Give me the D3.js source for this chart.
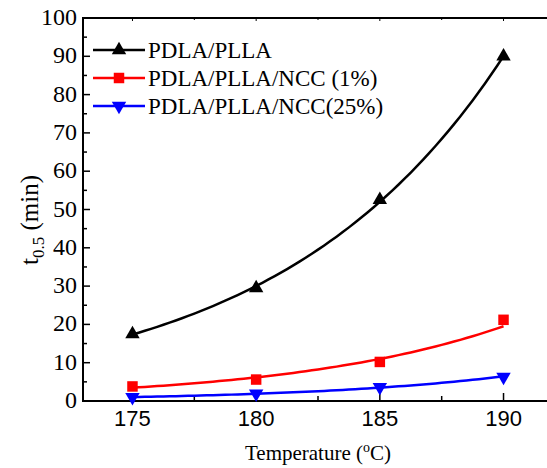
<!DOCTYPE html>
<html>
<head>
<meta charset="utf-8">
<script src="https://cdn.jsdelivr.net/npm/d3@7"></script>
<style>
  body { margin: 0; background: #fff; }
</style>
</head>
<body>
<div id="chart"></div>
<script>
const temps = [175, 180, 185, 190];
const pdlaPlla = [17.5, 29.5, 52.5, 90];
const ncc1 = [3.8, 5.6, 10.2, 21.2];
const ncc25 = [1.0, 1.9, 3.6, 6.3];
const xTicks = [175, 180, 185, 190];
const yTicks = [0, 10, 20, 30, 40, 50, 60, 70, 80, 90, 100];
const seriesNames = ["PDLA/PLLA", "PDLA/PLLA/NCC (1%)", "PDLA/PLLA/NCC(25%)"];
const colors = ["#000000", "#ff0000", "#0000ff"];
const shapes = ["triangle", "square", "triangleDown"];

const serif = "'Liberation Serif', 'Times New Roman', Times, serif";
const sans = "'Liberation Sans', Arial, Helvetica, sans-serif";

const width = 547;
const height = 468;
const margin = { top: 18, right: -6, bottom: 67, left: 83 };

const svg = d3.select("#chart")
  .append("svg")
  .attr("width", width)
  .attr("height", height)
  .attr("font-family", serif);

const x = d3.scaleLinear()
  .domain([173, 192])
  .range([margin.left, width - margin.right]);
const y = d3.scaleLinear()
  .domain([0, 100])
  .range([height - margin.bottom, margin.top]);

// frame
svg.append("rect")
  .attr("x", x(173))
  .attr("y", y(100))
  .attr("width", x(192) - x(173))
  .attr("height", y(0) - y(100))
  .attr("fill", "none")
  .attr("stroke", "#000")
  .attr("stroke-width", 2);

// bottom axis, ticks inward
const xMinor = [177.5, 182.5, 187.5];
svg.append("g").selectAll("line")
  .data(xTicks.concat(xMinor))
  .enter().append("line")
  .attr("x1", d => x(d)).attr("x2", d => x(d))
  .attr("y1", y(0))
  .attr("y2", d => y(0) - (xTicks.includes(d) ? 8 : 5))
  .attr("stroke", "#000").attr("stroke-width", 1.5);
svg.append("g").selectAll("line")
  .data(xTicks.concat(xMinor))
  .enter().append("line")
  .attr("x1", d => x(d)).attr("x2", d => x(d))
  .attr("y1", y(100))
  .attr("y2", d => y(100) + (xTicks.includes(d) ? 3 : 2))
  .attr("stroke", "#000").attr("stroke-width", 1);
svg.append("g").selectAll("text")
  .data(xTicks)
  .enter().append("text")
  .attr("x", d => x(d))
  .attr("y", y(0) + 25)
  .attr("text-anchor", "middle")
  .attr("font-family", sans)
  .attr("font-size", 22)
  .text(d => d);

// left axis, ticks inward
const yMinor = d3.range(5, 100, 10);
svg.append("g").selectAll("line")
  .data(yTicks.concat(yMinor))
  .enter().append("line")
  .attr("x1", x(173))
  .attr("x2", d => x(173) + (yTicks.includes(d) ? 7 : 4))
  .attr("y1", d => y(d)).attr("y2", d => y(d))
  .attr("stroke", "#000").attr("stroke-width", 1.5);
svg.append("g").selectAll("text")
  .data(yTicks)
  .enter().append("text")
  .attr("x", x(173) - 6)
  .attr("y", d => y(d) + 7)
  .attr("text-anchor", "end")
  .attr("font-size", 24)
  .text(d => d);

// exponential fit curves from the points
const series = [pdlaPlla, ncc1, ncc25];
const fitCurve = (vals) => {
  const ly = vals.map(v => Math.log(v));
  const mx = d3.mean(temps), my = d3.mean(ly);
  let num = 0, den = 0;
  temps.forEach((t, i) => { num += (t - mx) * (ly[i] - my); den += (t - mx) * (t - mx); });
  const b = num / den, a = my - b * mx;
  return d3.range(175, 190.01, 0.25).map(t => [t, Math.exp(a + b * t)]);
};
const line = d3.line()
  .x(d => x(d[0]))
  .y(d => y(d[1]));

series.forEach((vals, i) => {
  svg.append("path")
    .datum(fitCurve(vals))
    .attr("d", line)
    .attr("fill", "none")
    .attr("stroke", colors[i])
    .attr("stroke-width", 2.5);
});

const symbolFor = (shape) => {
  if (shape === "square") return d3.symbol(d3.symbolSquare, 110)();
  return d3.symbol(d3.symbolTriangle, 90)();
};

series.forEach((vals, i) => {
  svg.append("g").selectAll("path")
    .data(vals)
    .enter().append("path")
    .attr("d", symbolFor(shapes[i]))
    .attr("transform", (d, j) => "translate(" + x(temps[j]) + "," + y(d) + ")" + (shapes[i] === "triangleDown" ? " rotate(180)" : ""))
    .attr("fill", colors[i]);
});

// legend
const legendY = [50, 78, 106];
seriesNames.forEach((name, i) => {
  const g = svg.append("g");
  g.append("line")
    .attr("x1", 93).attr("x2", 145)
    .attr("y1", legendY[i]).attr("y2", legendY[i])
    .attr("stroke", colors[i]).attr("stroke-width", 2.5);
  g.append("path")
    .attr("d", symbolFor(shapes[i]))
    .attr("transform", "translate(119," + legendY[i] + ")" + (shapes[i] === "triangleDown" ? " rotate(180)" : ""))
    .attr("fill", colors[i]);
  g.append("text")
    .attr("x", 148)
    .attr("y", legendY[i] + 8)
    .attr("font-size", 23)
    .text(name);
});

// axis titles
const xt = svg.append("text")
  .attr("x", 318)
  .attr("y", 460)
  .attr("text-anchor", "middle")
  .attr("font-size", 21);
xt.append("tspan").text("Temperature (");
xt.append("tspan").attr("dy", -8).attr("font-size", 14).text("o");
xt.append("tspan").attr("dy", 8).text("C)");

const yt = svg.append("text")
  .attr("transform", "translate(38,220) rotate(-90)")
  .attr("text-anchor", "middle")
  .attr("font-size", 25);
yt.append("tspan").text("t");
yt.append("tspan").attr("dy", 6).attr("font-size", 17).text("0.5");
yt.append("tspan").attr("dy", -6).text(" (min)");
</script>
</body>
</html>
